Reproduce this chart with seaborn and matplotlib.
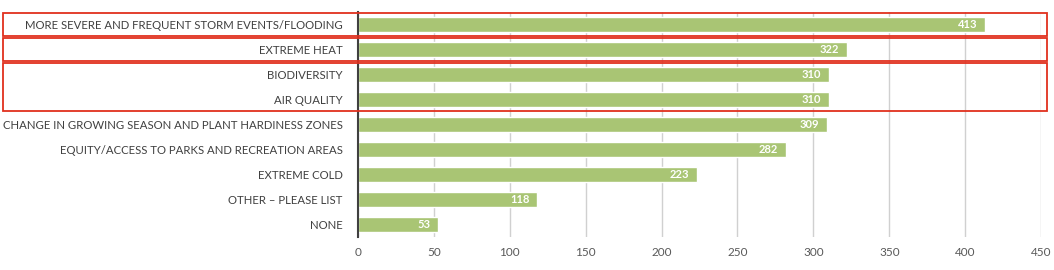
import matplotlib
matplotlib.use("Agg")
import matplotlib.pyplot as plt
import matplotlib.transforms as mtransforms
from matplotlib.patches import Rectangle
import seaborn as sns
import pandas as pd

categories = [
    "MORE SEVERE AND FREQUENT STORM EVENTS/FLOODING",
    "EXTREME HEAT",
    "BIODIVERSITY",
    "AIR QUALITY",
    "CHANGE IN GROWING SEASON AND PLANT HARDINESS ZONES",
    "EQUITY/ACCESS TO PARKS AND RECREATION AREAS",
    "EXTREME COLD",
    "OTHER \u2013 PLEASE LIST",
    "NONE",
]
values = [413, 322, 310, 310, 309, 282, 223, 118, 53]
x_ticks = [0, 50, 100, 150, 200, 250, 300, 350, 400, 450]
highlight_groups = [(0, 0), (1, 1), (2, 3)]

df = pd.DataFrame({"category": categories, "value": values})

sns.set_theme(style="white")
plt.rcParams["font.family"] = ["Lato", "DejaVu Sans"]

fig = plt.figure(figsize=(10.54, 2.70), dpi=100)
ax = fig.add_axes([0.3397, 0.122, 0.6480, 0.834])

sns.barplot(data=df, x="value", y="category", color="#A9C574", saturation=1,
            width=0.6, ax=ax, orient="h")

ax.set_xlim(0, 450)
ax.set_ylim(len(categories) - 0.5, -0.5)
ax.set_xticks(x_ticks)
ax.set_xticklabels([str(t) for t in x_ticks], color="#595959", fontsize=8.5)
ax.tick_params(axis="x", length=0, pad=7)
ax.tick_params(axis="y", length=0, pad=11, labelsize=8.2, labelcolor="#404040")
ax.set_xlabel("")
ax.set_ylabel("")
ax.xaxis.grid(True, color="#D0D0D0", linewidth=1)
ax.set_axisbelow(True)
for s in ["top", "right", "bottom"]:
    ax.spines[s].set_visible(False)
ax.spines["left"].set_color("#404040")
ax.spines["left"].set_linewidth(1.5)

for i, v in enumerate(values):
    ax.text(v - 5, i, str(v), ha="right", va="center", color="white",
            fontsize=8, fontweight="bold")

trans = mtransforms.blended_transform_factory(fig.transFigure, ax.transData)
for a, b in highlight_groups:
    y0 = a - 0.45
    h = (b + 0.45) - y0
    rect = Rectangle((0.003, y0), 0.990, h, transform=trans, fill=False,
                     edgecolor="#E0301E", linewidth=1.3, clip_on=False)
    fig.add_artist(rect)

fig.savefig("out.png", dpi=100)
